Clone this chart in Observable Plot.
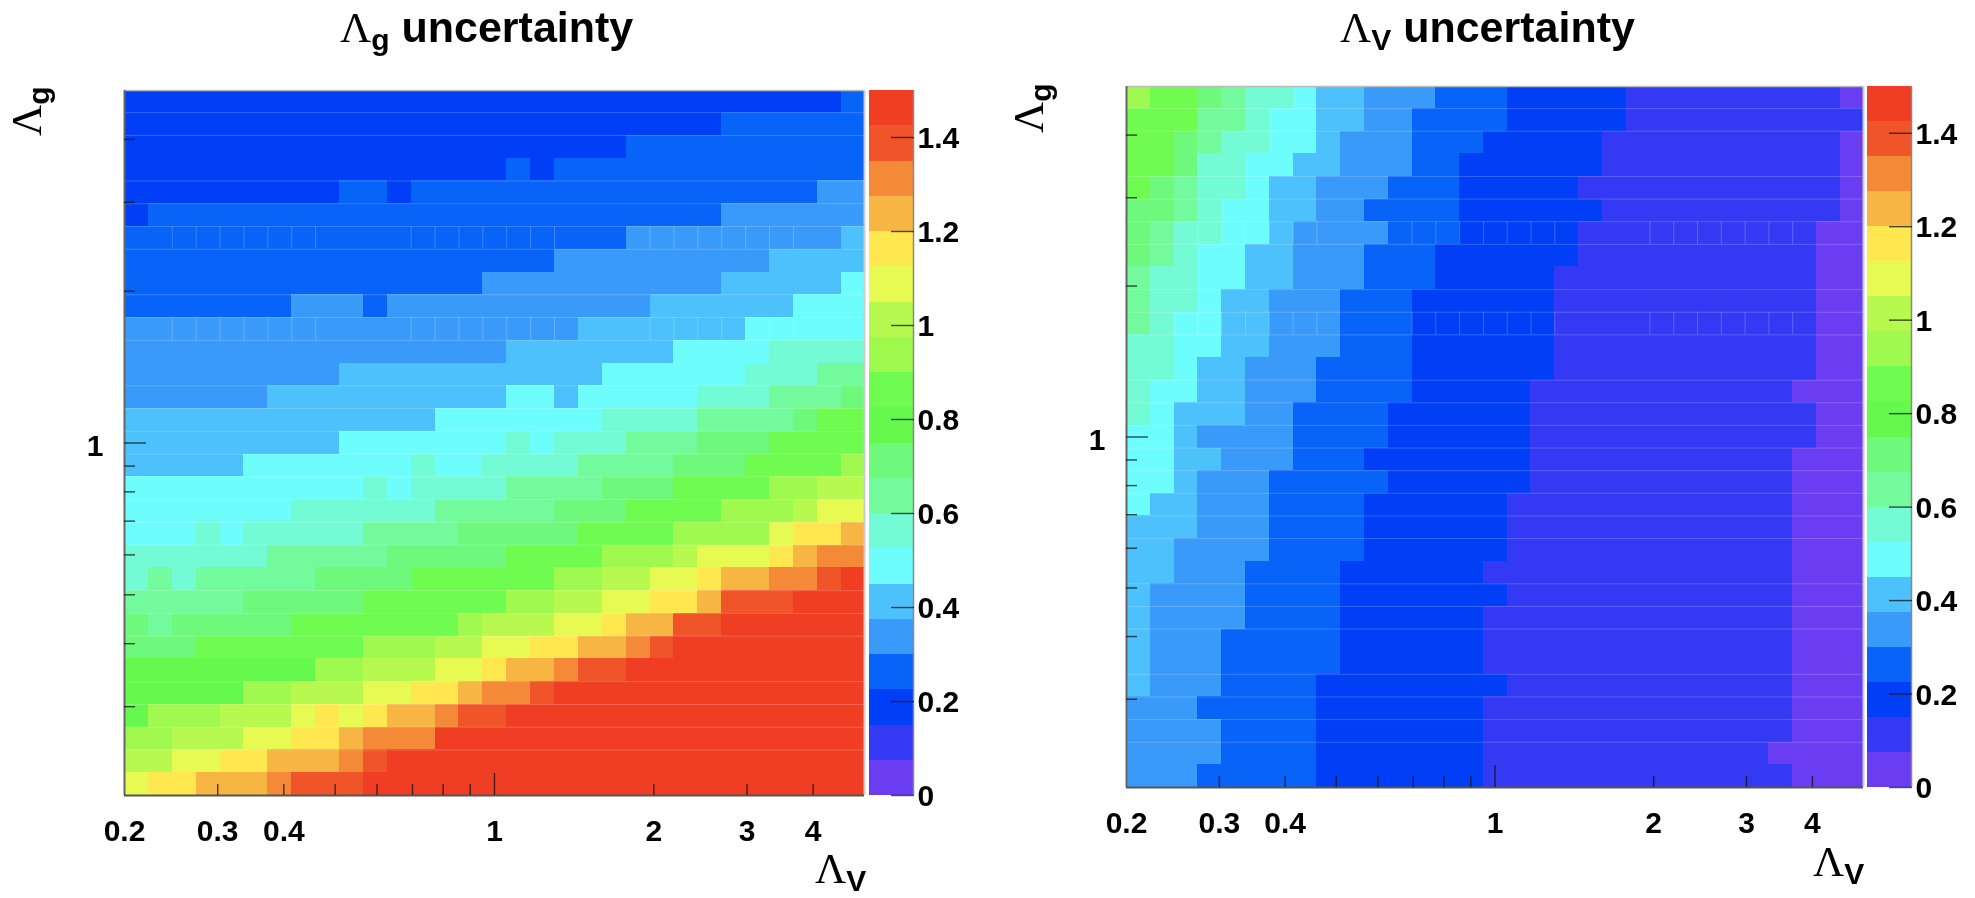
<!DOCTYPE html>
<html>
<head>
<meta charset="utf-8">
<script src="https://cdn.jsdelivr.net/npm/d3@7"></script>
<script src="https://cdn.jsdelivr.net/npm/@observablehq/plot@0.6"></script>
<style>
html,body{margin:0;padding:0;background:#fff;}
#page{position:relative;width:1975px;height:898px;overflow:hidden;background:#fff;filter:blur(0.5px);}
#page svg{position:absolute;display:block;}
.lab{position:absolute;white-space:pre;line-height:1;color:#000;font-family:"Liberation Sans",sans-serif;font-weight:bold;}
.lab .L{font-family:"Liberation Serif",serif;font-weight:normal;}
.lab .s{font-size:30px;position:relative;top:8px;}
</style>
</head>
<body>
<div id="page"></div>
<script>
// histogram bin edges (31 logarithmic bins from 0.2 to 5, both axes)
const binEdges = [0.2,0.2219,0.2462,0.2732,0.3031,0.3363,0.3731,0.414,0.4593,0.5096,0.5654,0.6273,0.696,0.7722,0.8568,0.9506,1.0547,1.1702,1.2983,1.4405,1.5982,1.7733,1.9674,2.1829,2.422,2.6872,2.9815,3.308,3.6702,4.0721,4.5181,5];
// colour scale: 20 bands between 0 and 1.5
const bandEdges = [0,0.075,0.15,0.225,0.3,0.375,0.45,0.525,0.6,0.675,0.75,0.825,0.9,0.975,1.05,1.125,1.2,1.275,1.35,1.425,1.5];
const palette = ["#6A3DF2","#3439F4","#003FF5","#0863F8","#3A9AF9","#4CC1FB","#6EFDFD","#72FBD5","#72FA9C","#6EF97C","#66F94D","#6FFB4F","#A0F94F","#B7F94F","#E7FA52","#FFE84F","#F7B543","#F48A37","#F05429","#F03E24"];
const barTicks = [0,0.2,0.4,0.6,0.8,1,1.2,1.4];
const xMajor = [1];
const xMinor = [0.3,0.4,0.5,0.6,0.7,0.8,0.9,2,3,4];
const xLabelled = [0.2,0.3,0.4,1,2,3,4];
const yMajor = [1];
const yMinor = [0.3,0.4,0.5,0.6,0.7,0.8,0.9,2,3,4];
// rows with a visible seam at their top edge, and the two rows with visible cell seams
const seamRows = [1,2,4,5,6,7,9,10,11,13,14,15,16,17,18,19,20,22,23,24,26,27,28,29];
const gridRows = [6,10];
const gridCols = [2,3,4,5,6,7,8,12,13,14,15,16,17,18,22,23,24,25,26,27,28];

// Each row, top to bottom: pairs of (colour band, number of cells), left to right
const lambdaGRows = [
[2,30,3,1],
[2,25,3,6],
[2,21,3,10],
[2,16,3,1,2,1,3,13],
[2,9,3,2,2,1,3,17,4,2],
[2,1,3,24,4,6],
[3,21,4,9,5,1],
[3,18,4,9,5,4],
[3,15,4,10,5,5,6,1],
[3,7,4,3,3,1,4,11,5,6,6,3],
[4,19,5,7,6,5],
[4,16,5,7,6,4,7,4],
[4,9,5,11,6,6,7,3,8,2],
[4,6,5,10,6,2,5,1,6,5,7,3,8,3,9,1],
[5,13,6,7,7,4,8,4,9,1,11,2],
[5,9,6,7,7,1,6,1,7,3,8,3,9,3,11,4],
[5,5,6,7,7,1,6,2,7,4,8,4,9,3,11,4,12,1],
[6,10,7,1,6,1,7,4,8,4,9,3,11,4,12,2,13,2],
[6,7,7,6,8,5,9,3,11,4,12,3,13,1,14,2],
[6,3,7,1,6,1,7,5,8,4,9,5,11,4,12,4,14,1,15,2,16,1],
[7,6,8,5,9,5,11,4,12,3,13,1,14,3,15,1,16,1,17,2],
[7,1,8,1,7,1,8,5,9,4,11,6,12,2,13,2,14,2,15,1,16,2,17,2,18,1,19,1],
[8,5,9,5,11,6,12,2,13,2,14,2,15,2,16,1,18,3,19,3],
[9,1,8,1,9,5,11,7,12,1,13,3,14,2,15,1,16,2,18,2,19,6],
[9,3,11,7,12,3,13,2,14,2,15,2,16,2,17,1,18,1,19,8],
[10,8,12,2,13,3,14,2,15,1,16,2,17,1,18,2,19,10],
[10,5,12,2,13,3,14,2,15,2,16,1,17,2,18,1,19,13],
[10,1,12,3,13,3,14,1,15,1,14,1,15,1,16,2,17,1,18,2,19,15],
[12,2,13,3,14,2,15,2,16,1,17,3,19,18],
[13,2,14,2,15,2,16,3,17,1,18,1,19,20],
[14,1,15,2,16,3,17,1,18,3,19,21]
];
const lambdaVRows = [
[12,1,11,2,9,1,8,1,7,2,6,1,5,2,4,3,3,3,2,5,1,9,0,1],
[11,3,8,2,7,1,6,2,5,2,4,2,3,4,2,5,1,10],
[11,2,9,1,8,1,7,2,6,2,5,1,4,3,3,3,2,5,1,10,0,1],
[11,2,9,1,7,2,6,2,5,2,4,3,3,2,2,6,1,10,0,1],
[11,1,9,1,8,1,7,2,6,1,5,2,4,3,3,3,2,5,1,11,0,1],
[9,2,8,1,7,1,6,2,5,2,4,2,3,4,2,6,1,10,0,1],
[9,1,8,1,7,2,6,2,5,1,4,4,3,3,2,5,1,10,0,2],
[9,1,8,1,7,1,6,2,5,2,4,3,3,3,2,6,1,10,0,2],
[8,1,7,2,6,2,5,2,4,3,3,3,2,5,1,11,0,2],
[8,1,7,2,6,1,5,2,4,3,3,3,2,6,1,11,0,2],
[8,1,7,1,6,2,5,2,4,3,3,3,2,6,1,11,0,2],
[7,2,6,2,5,2,4,3,3,3,2,6,1,11,0,2],
[7,2,6,1,5,2,4,3,3,4,2,6,1,11,0,2],
[7,1,6,2,5,2,4,3,3,4,2,5,1,11,0,3],
[7,1,6,1,5,3,4,2,3,4,2,6,1,12,0,2],
[6,2,5,1,4,4,3,4,2,6,1,12,0,2],
[6,2,5,2,4,3,3,3,2,7,1,11,0,3],
[6,2,5,1,4,3,3,5,2,6,1,11,0,3],
[6,1,5,2,4,3,3,4,2,6,1,12,0,3],
[5,3,4,3,3,4,2,6,1,12,0,3],
[5,2,4,4,3,4,2,6,1,12,0,3],
[5,2,4,3,3,4,2,6,1,13,0,3],
[5,1,4,4,3,4,2,7,1,12,0,3],
[5,1,4,4,3,4,2,6,1,13,0,3],
[5,1,4,3,3,5,2,6,1,13,0,3],
[5,1,4,3,3,5,2,6,1,13,0,3],
[5,1,4,3,3,4,2,8,1,12,0,3],
[4,3,3,5,2,7,1,13,0,3],
[4,4,3,4,2,7,1,13,0,3],
[4,4,3,4,2,7,1,12,0,4],
[4,3,3,5,2,7,1,13,0,3]
];

const page = document.getElementById("page");
const FONT = "font-family:'Liberation Sans',sans-serif;font-weight:bold;font-size:30px;background:none;overflow:visible;";
const thresholds = bandEdges.slice(1, -1);
const mid = l => (bandEdges[l] + bandEdges[l + 1]) / 2;
const colorOpt = {type: "threshold", domain: thresholds, range: palette};
const tickStyle = {stroke: "#111", strokeOpacity: 0.75, strokeWidth: 1.4};

function cellsOf(rows) {
  const out = [];
  rows.forEach((runs, r) => {
    const row = rows.length - 1 - r; // rows are listed top to bottom, edges bottom to top
    let c = 0;
    for (let k = 0; k < runs.length; k += 2) {
      for (let n = 0; n < runs[k + 1]; n++, c++) {
        out.push({x1: binEdges[c], x2: binEdges[c + 1], y1: binEdges[row], y2: binEdges[row + 1], value: mid(runs[k])});
      }
    }
  });
  return out;
}

function place(svg, left, top) {
  svg.style.left = left + "px";
  svg.style.top = top + "px";
  page.appendChild(svg);
}

function heatmap(rows, f) {
  const mL = 50, mR = 4, mT = 4, mB = 60;
  const last = rows.length;
  const svg = Plot.plot({
    width: f.w + mL + mR, height: f.h + mT + mB,
    marginLeft: mL, marginRight: mR, marginTop: mT, marginBottom: mB,
    style: FONT,
    x: {type: "log", domain: [0.2, 5], axis: null},
    y: {type: "log", domain: [0.2, 5], axis: null},
    color: colorOpt,
    marks: [
      Plot.rect(cellsOf(rows), {x1: "x1", x2: "x2", y1: "y1", y2: "y2", fill: "value", shapeRendering: "crispEdges"}),
      Plot.ruleY(seamRows.map(r => binEdges[last - r]), {stroke: "#fff", strokeOpacity: 0.2, strokeWidth: 1}),
      Plot.ruleX(gridRows.flatMap(r => gridCols.map(c => ({x: binEdges[c], y1: binEdges[last - r - 1], y2: binEdges[last - r]}))),
        {x: "x", y1: "y1", y2: "y2", stroke: "#fff", strokeOpacity: 0.22, strokeWidth: 1}),
      Plot.ruleY([5], {stroke: "#bbb", strokeWidth: 1.5}),
      Plot.ruleX([5], {stroke: "#ccc", strokeWidth: 2}),
      Plot.ruleX([0.2], {stroke: "#666", strokeWidth: 2}),
      Plot.ruleY([0.2], {stroke: "#555", strokeWidth: 2}),
      Plot.axisX(xMajor, {anchor: "bottom", tickSize: 22, dy: -22, tickFormat: () => "", label: null, ...tickStyle}),
      Plot.axisX(xMinor, {anchor: "bottom", tickSize: 11, dy: -11, tickFormat: () => "", label: null, ...tickStyle}),
      Plot.axisY(yMajor, {anchor: "left", tickSize: 22, dx: 22, tickFormat: () => "", label: null, ...tickStyle}),
      Plot.axisY(yMinor, {anchor: "left", tickSize: 11, dx: 11, tickFormat: () => "", label: null, ...tickStyle}),
      Plot.axisX(xLabelled, {anchor: "bottom", tickSize: 0, tickPadding: 24, tickFormat: d => String(d), label: null, stroke: "none", fill: "#000"}),
      Plot.axisY(yMajor, {anchor: "left", tickSize: 0, tickPadding: 21, dy: 3, tickFormat: d => String(d), label: null, stroke: "none", fill: "#000"})
    ]
  });
  place(svg, f.x - mL, f.y - mT);
}

function colorbar(f) {
  const mL = 4, mR = 60, mT = 4, mB = 24;
  const bands = palette.map((_, i) => ({lo: bandEdges[i], hi: bandEdges[i + 1], value: mid(i)}));
  const svg = Plot.plot({
    width: f.w + mL + mR, height: f.h + mT + mB,
    marginLeft: mL, marginRight: mR, marginTop: mT, marginBottom: mB,
    style: FONT,
    x: {axis: null, domain: [0, 1]},
    y: {domain: [0, 1.5], axis: null},
    color: colorOpt,
    marks: [
      Plot.rect(bands, {y1: "lo", y2: "hi", fill: "value", shapeRendering: "crispEdges"}),
      Plot.ruleX([1], {stroke: "#888", strokeWidth: 1.5}),
      Plot.axisY(barTicks, {anchor: "right", tickSize: 23, dx: -23, tickFormat: () => "", label: null, ...tickStyle}),
      Plot.axisY(barTicks, {anchor: "right", tickSize: 0, tickPadding: 4, dy: 1, tickFormat: d => String(d), label: null, stroke: "none", fill: "#000"})
    ]
  });
  place(svg, f.x - mL, f.y - mT);
}

function label(sub, x, y, size, rest, rot) {
  const d = document.createElement("div");
  d.className = "lab";
  d.style.left = x + "px";
  d.style.top = y + "px";
  d.style.fontSize = size + "px";
  if (rot) { d.style.transform = "rotate(-90deg)"; d.style.transformOrigin = "0 0"; }
  const L = document.createElement("span"); L.className = "L"; L.textContent = "Λ";
  const s = document.createElement("span"); s.className = "s"; s.textContent = sub;
  d.append(L, s);
  if (rest) d.append(document.createTextNode(rest));
  page.appendChild(d);
}

heatmap(lambdaGRows, {x: 124, y: 90, w: 740, h: 705});
colorbar({x: 869, y: 90, w: 44, h: 705});
heatmap(lambdaVRows, {x: 1126, y: 86, w: 737, h: 701});
colorbar({x: 1867, y: 86, w: 44, h: 701});

label("g", 340, 6, 43, " uncertainty");
label("V", 1340, 6, 43, " uncertainty");
label("g", 5, 136, 43, "", true);
label("V", 815, 847, 43, "");
label("g", 1007, 133, 43, "", true);
label("V", 1813, 840, 43, "");
</script>
</body>
</html>
